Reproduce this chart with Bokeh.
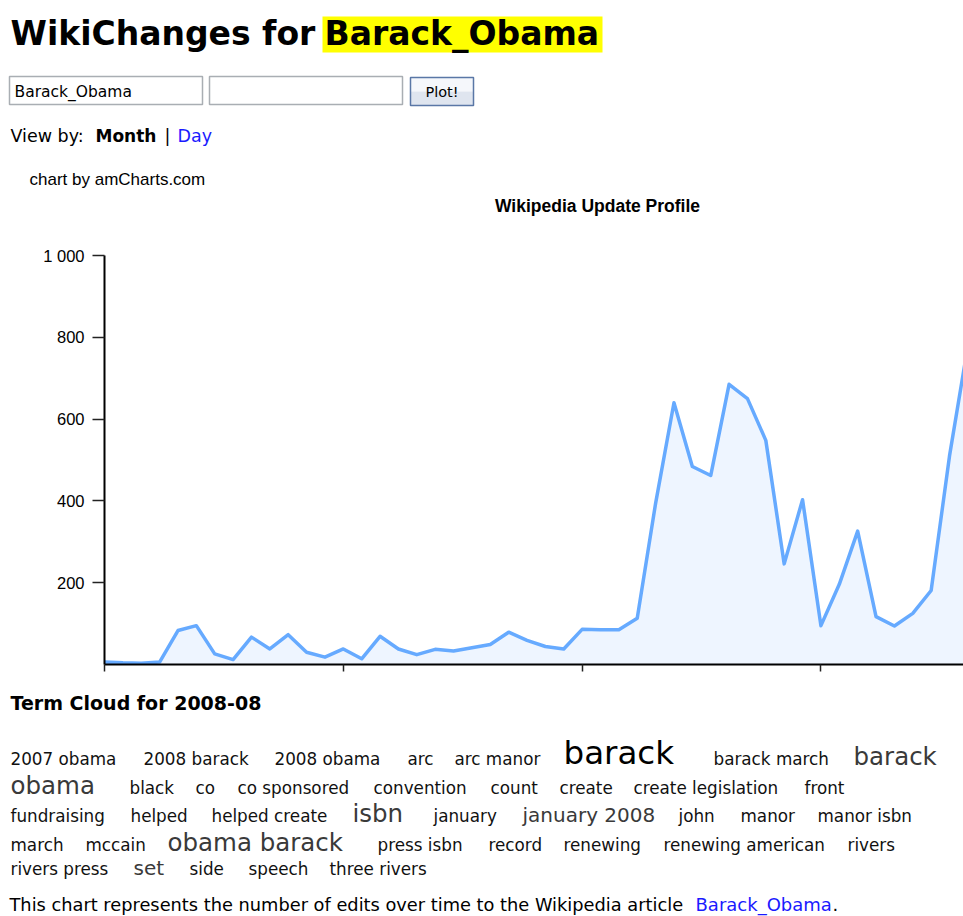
from bokeh.plotting import figure
from bokeh.models import Range1d, FixedTicker
from bokeh.core.properties import value
from bokeh.embed import file_html
from bokeh.resources import INLINE

# ---------------- data ----------------
article = "Barack_Obama"
cloud_month = "2008-08"

months = ["2004-09", "2004-10", "2004-11", "2004-12",
          "2005-01", "2005-02", "2005-03", "2005-04", "2005-05", "2005-06",
          "2005-07", "2005-08", "2005-09", "2005-10", "2005-11", "2005-12",
          "2006-01", "2006-02", "2006-03", "2006-04", "2006-05", "2006-06",
          "2006-07", "2006-08", "2006-09", "2006-10", "2006-11", "2006-12",
          "2007-01", "2007-02", "2007-03", "2007-04", "2007-05", "2007-06",
          "2007-07", "2007-08", "2007-09", "2007-10", "2007-11", "2007-12",
          "2008-01", "2008-02", "2008-03", "2008-04", "2008-05", "2008-06",
          "2008-07", "2008-08"]
edits = [6, 4, 3, 6, 83, 95, 26, 12, 67, 38,
         73, 30, 18, 38, 14, 69, 38, 24, 37, 33,
         41, 49, 79, 59, 44, 38, 86, 85, 85, 113,
         394, 640, 484, 462, 685, 650, 548, 246, 403, 95,
         196, 326, 117, 94, 125, 181, 510, 780]
y_ticks = [200, 400, 600, 800, 1000]
y_tick_labels = {1000: "1 000"}
x_tick_months = ["2004-09", "2005-10", "2006-11", "2007-12"]

terms = ["2007 obama", "2008 barack", "2008 obama", "arc", "arc manor", "barack",
         "barack march", "barack obama", "black", "co", "co sponsored", "convention",
         "count", "create", "create legislation", "front", "fundraising", "helped",
         "helped create", "isbn", "january", "january 2008", "john", "manor",
         "manor isbn", "march", "mccain", "obama barack", "press isbn", "record",
         "renewing", "renewing american", "rivers", "rivers press", "set", "side",
         "speech", "three rivers"]
term_weight = [1, 1, 1, 1, 1, 4,
               1, 3, 1, 1, 1, 1,
               1, 1, 1, 1, 1, 1,
               1, 3, 1, 2, 1, 1,
               1, 1, 1, 3, 1, 1,
               1, 1, 1, 1, 2, 1,
               1, 1]

# ---------------- layout / style (page pixels) ----------------
PAGE_W, PAGE_H = 963, 916
FRAME_L, FRAME_R, FRAME_T, FRAME_B = 104, 963, 255, 664
PX_PER_MONTH = 18.37
BASE_SHIFT = 0.37   # alphabetic baseline correction (em)

term_pos = [(10, 0), (143, 0), (274, 0), (407, 0), (454, 0), (563, 0),
            (713, 0), (853, 0), (129, 1), (195, 1), (237, 1), (373, 1),
            (490, 1), (559, 1), (633, 1), (804, 1), (10, 2), (130, 2),
            (211, 2), (352, 2), (433, 2), (522, 2), (678, 2), (740, 2),
            (817, 2), (10, 3), (85, 3), (167, 3), (377, 3), (488, 3),
            (563, 3), (663, 3), (847, 3), (10, 4), (133, 4), (189, 4),
            (248, 4), (329, 4)]
row_base = [765, 794, 822, 851, 875]
weight_size = {1: 16.8, 2: 20, 3: 24.5, 4: 32.5}
weight_color = {1: "#111111", 2: "#3a3a3a", 3: "#3a3a3a", 4: "#000000"}

p = figure(width=PAGE_W, height=PAGE_H,
           x_range=Range1d(0, (FRAME_R - FRAME_L) / PX_PER_MONTH),
           y_range=Range1d(0, 1000),
           output_backend="svg", toolbar_location=None,
           min_border_left=FRAME_L, min_border_right=PAGE_W - FRAME_R,
           min_border_top=FRAME_T, min_border_bottom=PAGE_H - FRAME_B)
p.extra_x_ranges = {"px": Range1d(FRAME_L, FRAME_R)}
p.extra_y_ranges = {"py": Range1d(FRAME_B, FRAME_T)}
p.grid.visible = False
p.outline_line_color = None
p.background_fill_color = "white"
p.border_fill_color = "white"


def txt(x, y, s, size, font="DejaVu Sans", style="normal", color="#000000", align="left"):
    p.text(x=[x], y=[y - BASE_SHIFT * size], text=[s], text_font=value(font),
           text_font_size=f"{size}px", text_font_style=style, text_color=color,
           text_align=align, text_baseline="alphabetic",
           x_range_name="px", y_range_name="py", level="overlay")


def box(l, r, t, b, fill, line=None, lw=1):
    p.quad(left=[l], right=[r], top=[t], bottom=[b], fill_color=fill, line_color=line,
           line_width=lw, x_range_name="px", y_range_name="py", level="overlay")


# ---------------- chart ----------------
xs = list(range(len(months)))
p.varea(x=xs, y1=[0] * len(xs), y2=edits, fill_color="#eef5ff")
p.line(x=xs, y=edits, line_color="#66aaff", line_width=3.5, line_join="round")

ya = p.yaxis[0]
ya.ticker = FixedTicker(ticks=y_ticks)
ya.major_label_overrides = y_tick_labels
ya.axis_line_width = 2
ya.axis_line_color = "#000000"
ya.major_tick_out = 12
ya.major_tick_in = 0
ya.minor_tick_out = 0
ya.minor_tick_in = 0
ya.major_tick_line_width = 1.5
ya.major_tick_line_color = "#222222"
ya.major_label_text_font = "Liberation Sans"
ya.major_label_text_font_size = "16.5px"
ya.major_label_text_color = "#000000"
ya.major_label_standoff = 8

xa = p.xaxis[0]
x_tick_idx = [months.index(m) for m in x_tick_months]
xa.ticker = FixedTicker(ticks=x_tick_idx)
xa.major_label_overrides = {i: "" for i in x_tick_idx}
xa.major_label_text_font_size = "1px"
xa.major_label_standoff = 0
xa.axis_line_width = 2
xa.axis_line_color = "#000000"
xa.major_tick_out = 7
xa.major_tick_in = 0
xa.minor_tick_out = 0
xa.minor_tick_in = 0
xa.major_tick_line_width = 1.5
xa.major_tick_line_color = "#222222"

# ---------------- header ----------------
box(322, 602, 16, 52, "#ffff00")
txt(10, 45, "WikiChanges for", 33, style="bold")
txt(324, 45, article, 33, style="bold")
box(9, 202, 76, 104, "white", "#a9aeb3", 1.5)
box(209, 402, 76, 104, "white", "#a9aeb3", 1.5)
box(410, 473, 77, 91, "#f5f7fb")
box(410, 473, 91, 105, "#dfe5ef")
box(410, 473, 77, 105, None, "#5a77a6", 1.5)
txt(14, 97, article, 15.5)
txt(441.5, 97, "Plot!", 14.5, align="center")
txt(10, 142, "View by:", 17.5)
txt(95, 142, "Month", 17, style="bold")
txt(164, 142, "|", 17.5)
txt(177, 142, "Day", 17.5, color="#1a1aff")
txt(29, 185, "chart by amCharts.com", 17, font="Liberation Sans")
txt(597, 212, "Wikipedia Update Profile", 17.5, font="Liberation Sans", style="bold",
    align="center")

# ---------------- term cloud ----------------
txt(10, 710, f"Term Cloud for {cloud_month}", 19, style="bold")
for term, wgt, (x, row) in zip(terms, term_weight, term_pos):
    size = weight_size[wgt]
    color = weight_color[wgt]
    if row == 0 and x > 800 and " " in term:
        first, rest = term.split(" ", 1)
        txt(x, row_base[row], first, size, color=color)
        txt(10, row_base[row + 1], rest, size, color=color)
    else:
        txt(x, row_base[row], term, size, color=color)

txt(9, 911, "This chart represents the number of edits over time to the Wikipedia article",
    17.8)
txt(695, 911, article, 18, color="#1a1aff")
txt(832, 911, ".", 18)

open("out.html", "w").write(file_html(p, INLINE))
